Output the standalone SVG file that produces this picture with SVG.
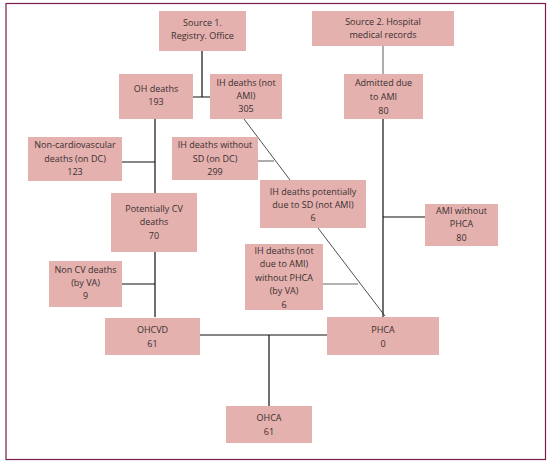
<svg xmlns="http://www.w3.org/2000/svg" width="554" height="463" viewBox="0 0 554 463">
<style>
.b{fill:#e4b1ae}
text{font-family:"Open Sans","Liberation Sans",sans-serif;font-size:9px;fill:#3a3030;text-anchor:middle}
.k{stroke:#111;stroke-width:1.2;fill:none}
.g{stroke:#9a9a9a;stroke-width:1.6;fill:none}
.d{stroke:#222;stroke-width:0.8;fill:none}
</style>
<rect x="0" y="0" width="554" height="463" fill="#fff"/>
<rect x="6" y="3.5" width="539.5" height="456" fill="none" stroke="#7a1d4c" stroke-width="1.2"/>
<g id="connectors">
<path class="k" d="M202 51V97M193 97H210"/>
<path class="g" d="M383 46V74"/>
<path class="k" d="M383 119V317"/>
<path class="k" d="M155 119V193M122 162H155"/>
<path class="k" d="M155 252V317M122 284H155"/>
<path class="g" d="M258 161H274"/>
<path class="d" d="M244 119L290 180M318 228L385 316"/>
<path class="g" d="M323 284H358"/>
<path class="k" d="M383 217H425"/>
<path class="k" d="M200 335H327M269 335V406"/>
</g>
<g id="source1"><rect class="b" x="159" y="11" width="87" height="40"/><text x="202.5" y="25.5">Source 1.</text><text x="202.5" y="38.5">Registry. Office</text></g>
<g id="source2"><rect class="b" x="312" y="11" width="142" height="35"/><text x="383" y="25">Source 2. Hospital</text><text x="383" y="38">medical records</text></g>
<g id="oh"><rect class="b" x="119" y="74" width="74" height="45"/><text x="156" y="91.5">OH deaths</text><text x="156" y="104.5">193</text></g>
<g id="ih"><rect class="b" x="210" y="74" width="72" height="45"/><text x="246" y="85.5">IH deaths (not</text><text x="246" y="98.5">AMI)</text><text x="246" y="112">305</text></g>
<g id="admitted"><rect class="b" x="344" y="74" width="79" height="45"/><text x="383.5" y="86">Admitted due</text><text x="383.5" y="100">to AMI</text><text x="383.5" y="113.5">80</text></g>
<g id="noncardio"><rect class="b" x="28" y="137" width="94" height="44"/><text x="75" y="148">Non-cardiovascular</text><text x="75" y="161.5">deaths (on DC)</text><text x="75" y="175">123</text></g>
<g id="ihnosd"><rect class="b" x="172" y="137" width="86" height="43"/><text x="215" y="148">IH deaths without</text><text x="215" y="161.5">SD (on DC)</text><text x="215" y="175">299</text></g>
<g id="potcv"><rect class="b" x="111" y="193" width="86" height="59"/><text x="154" y="211.5">Potentially CV</text><text x="154" y="225">deaths</text><text x="154" y="238.5">70</text></g>
<g id="ihsd"><rect class="b" x="260" y="180" width="106" height="48"/><text x="313" y="194.5">IH deaths potentially</text><text x="313" y="207.5">due to SD (not AMI)</text><text x="313" y="221">6</text></g>
<g id="amipch"><rect class="b" x="425" y="204" width="73" height="42"/><text x="461.5" y="213.5">AMI without</text><text x="461.5" y="227">PHCA</text><text x="461.5" y="240.5">80</text></g>
<g id="noncv"><rect class="b" x="49" y="261" width="73" height="46"/><text x="85.5" y="272.5">Non CV deaths</text><text x="85.5" y="285.5">(by VA)</text><text x="85.5" y="299">9</text></g>
<g id="ihnophca"><rect class="b" x="245" y="244" width="78" height="66"/><text x="284" y="253.5">IH deaths (not</text><text x="284" y="267">due to AMI)</text><text x="284" y="280.5">without PHCA</text><text x="284" y="294">(by VA)</text><text x="284" y="307.5">6</text></g>
<g id="ohcvd"><rect class="b" x="105" y="318" width="95" height="37"/><text x="152.5" y="332.5">OHCVD</text><text x="152.5" y="346.5">61</text></g>
<g id="phca"><rect class="b" x="327" y="317" width="112" height="38"/><text x="383" y="332.5">PHCA</text><text x="383" y="346.5">0</text></g>
<g id="ohca"><rect class="b" x="226" y="406" width="86" height="37"/><text x="269" y="421">OHCA</text><text x="269" y="435">61</text></g>
</svg>
